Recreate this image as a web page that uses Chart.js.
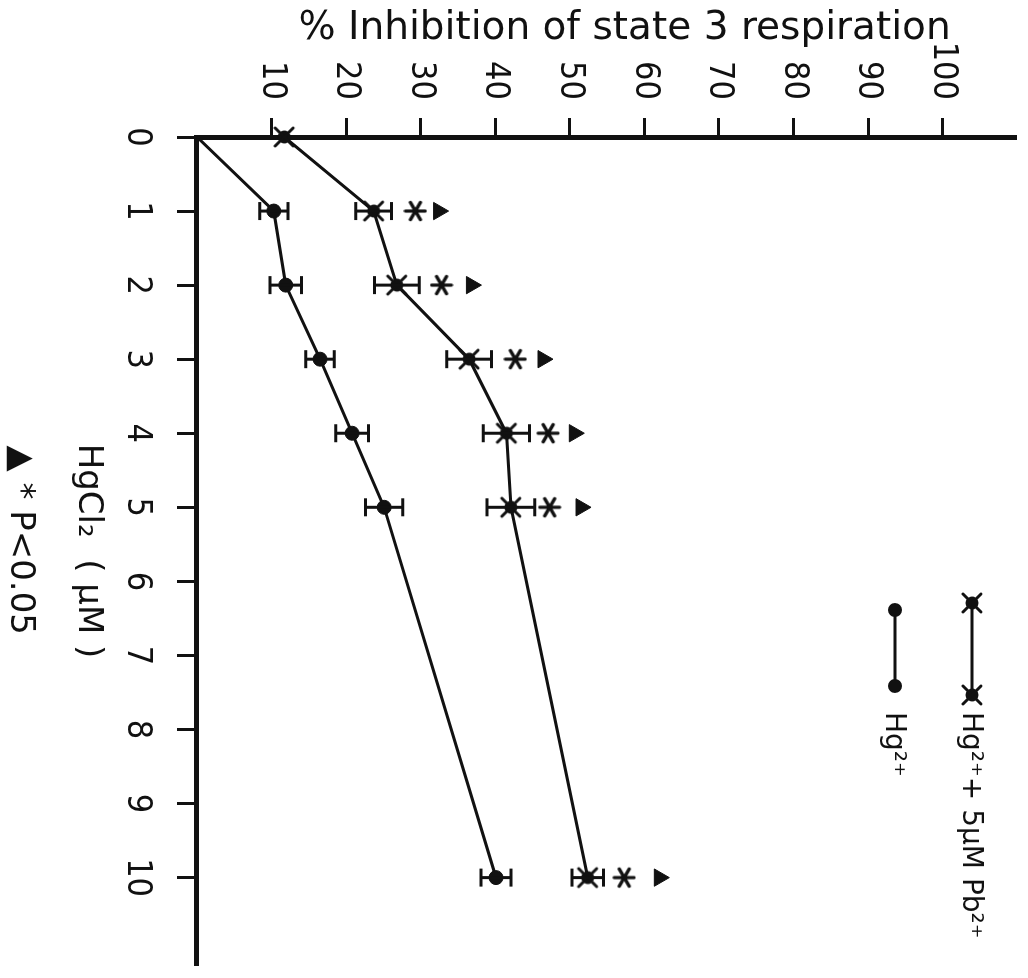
<!DOCTYPE html>
<html>
<head>
<meta charset="utf-8">
<script src="https://cdn.jsdelivr.net/npm/chart.js@4.4.0/dist/chart.umd.min.js"></script>
<style>
  html, body { margin: 0; padding: 0; background: #fff; overflow: hidden; }
  /* the figure is printed on its side, so the whole chart is turned 90deg clockwise */
  #wrap { position: absolute; left: 0; top: 0; width: 978px; height: 1028px;
          transform-origin: 0 0; transform: translate(1028px, 0) rotate(90deg); }
</style>
</head>
<body>
<div id="wrap"><canvas id="inhibitionChart" width="978" height="1028"></canvas></div>
<script>
const hgcl2 = [0, 1, 2, 3, 4, 5, 10];
const hgOnly = [0, 10.3, 11.9, 16.5, 20.8, 25.1, 40.1];
const hgOnlyErr = [0, 1.9, 2.1, 1.9, 2.2, 2.5, 2.0];
const hgPb = [11.7, 23.7, 26.8, 36.5, 41.5, 42.1, 52.4];
const hgPbErr = [0, 2.4, 3.0, 3.0, 3.1, 3.2, 2.1];
const sigDoses = [1, 2, 3, 4, 5, 10];
const starMarks = [29.3, 32.8, 42.7, 47.1, 47.3, 57.3];
const triangleMarks = [32.4, 36.8, 46.4, 50.6, 51.5, 62.0];
const xTicks = [0, 1, 2, 3, 4, 5, 6, 7, 8, 9, 10];
const yTicks = [10, 20, 30, 40, 50, 60, 70, 80, 90, 100];
const seriesNames = ['Hg\u00b2\u207a+ 5\u00b5M Pb\u00b2\u207a', 'Hg\u00b2\u207a'];
const xTitle = 'HgCl\u2082  ( \u00b5M )';
const footnote = '\u25b2 * P<0.05  ';
const yTitle = '   % Inhibition of state 3 respiration';

const ink = '#111';
const tickFont = "'Liberation Sans Narrow', 'DejaVu Sans Condensed', 'Liberation Sans', sans-serif";
const labelFont = "'DejaVu Sans', sans-serif";

function markCanvas(size, draw) {
  const c = document.createElement('canvas');
  c.width = size;
  c.height = size;
  const g = c.getContext('2d');
  g.strokeStyle = ink;
  g.fillStyle = ink;
  g.lineCap = 'round';
  draw(g, size / 2);
  return c;
}

// filled dot with a cross through it (Hg + Pb series)
const pbMark = markCanvas(26, (g, m) => {
  g.beginPath();
  g.arc(m, m, 6.5, 0, Math.PI * 2);
  g.fill();
  g.lineWidth = 3;
  g.beginPath();
  g.moveTo(4, 4); g.lineTo(22, 22);
  g.moveTo(22, 4); g.lineTo(4, 22);
  g.stroke();
});

// six-armed asterisk
const asterisk = markCanvas(24, (g, m) => {
  g.lineWidth = 3.2;
  g.beginPath();
  [90, 30, 150].forEach(a => {
    const r = a * Math.PI / 180;
    g.moveTo(m - 10 * Math.cos(r), m - 10 * Math.sin(r));
    g.lineTo(m + 10 * Math.cos(r), m + 10 * Math.sin(r));
  });
  g.stroke();
});

const errorBars = {
  id: 'errorBars',
  afterDatasetsDraw(chart) {
    const ctx = chart.ctx;
    const y = chart.scales.y;
    [[0, hgPb, hgPbErr], [1, hgOnly, hgOnlyErr]].forEach(([i, vals, errs]) => {
      chart.getDatasetMeta(i).data.forEach((pt, k) => {
        if (!errs[k]) return;
        const hi = y.getPixelForValue(vals[k] + errs[k]);
        const lo = y.getPixelForValue(vals[k] - errs[k]);
        ctx.save();
        ctx.strokeStyle = ink;
        ctx.lineWidth = 3;
        ctx.beginPath();
        ctx.moveTo(pt.x, hi); ctx.lineTo(pt.x, lo);
        ctx.moveTo(pt.x - 9, hi); ctx.lineTo(pt.x + 9, hi);
        ctx.moveTo(pt.x - 9, lo); ctx.lineTo(pt.x + 9, lo);
        ctx.stroke();
        ctx.restore();
      });
    });
  }
};

// legend drawn as in the original: a short line with a marker at each end
const sideLegend = {
  id: 'sideLegend',
  afterDraw(chart) {
    const ctx = chart.ctx;
    const a = chart.chartArea;
    const rows = [
      { top: a.top + 43, from: 603, to: 695, mark: 'pb' },
      { top: a.top + 120, from: 610, to: 686, mark: 'dot' }
    ];
    ctx.save();
    ctx.strokeStyle = ink;
    ctx.fillStyle = ink;
    ctx.lineWidth = 3;
    rows.forEach((r, i) => {
      ctx.beginPath();
      ctx.moveTo(r.from, r.top);
      ctx.lineTo(r.to, r.top);
      ctx.stroke();
      [r.from, r.to].forEach(x => {
        if (r.mark === 'pb') {
          ctx.drawImage(pbMark, x - 13, r.top - 13);
        } else {
          ctx.beginPath();
          ctx.arc(x, r.top, 7, 0, Math.PI * 2);
          ctx.fill();
        }
      });
      ctx.font = '28px ' + labelFont;
      ctx.textBaseline = 'middle';
      ctx.textAlign = 'left';
      ctx.fillText(seriesNames[i], 712, r.top + 2);
    });
    ctx.restore();
  }
};

new Chart(document.getElementById('inhibitionChart'), {
  type: 'line',
  data: {
    datasets: [
      {
        label: seriesNames[0],
        data: hgcl2.map((x, i) => ({ x, y: hgPb[i] })),
        borderColor: ink,
        borderWidth: 3,
        pointStyle: pbMark,
        pointRadius: 10,
        clip: false
      },
      {
        label: seriesNames[1],
        data: hgcl2.map((x, i) => ({ x, y: hgOnly[i] })),
        borderColor: ink,
        backgroundColor: ink,
        borderWidth: 3,
        pointStyle: 'circle',
        pointRadius: hgcl2.map(x => (x === 0 ? 0 : 7)),
        pointBorderWidth: 1,
        clip: false
      },
      {
        type: 'scatter',
        label: '*',
        data: sigDoses.map((x, i) => ({ x, y: starMarks[i] })),
        pointStyle: asterisk,
        pointRadius: 10,
        showLine: false
      },
      {
        type: 'scatter',
        label: '\u25b2',
        data: sigDoses.map((x, i) => ({ x, y: triangleMarks[i] })),
        pointStyle: 'triangle',
        pointRadius: 10,
        backgroundColor: ink,
        borderColor: ink,
        borderWidth: 1,
        showLine: false
      }
    ]
  },
  options: {
    responsive: false,
    animation: false,
    layout: { padding: { top: 8, right: 0, bottom: 0, left: 0 } },
    plugins: {
      legend: { display: false },
      tooltip: { enabled: false }
    },
    scales: {
      x: {
        type: 'linear',
        min: 0,
        max: 11.18,
        afterBuildTicks: s => { s.ticks = xTicks.map(v => ({ value: v })); },
        afterFit: s => { s.height = 197; s.paddingLeft = 0; s.paddingRight = 0; },
        grid: { drawOnChartArea: false, drawTicks: true, tickLength: 20, tickWidth: 3, tickColor: ink },
        border: { color: ink, width: 5 },
        ticks: { color: ink, padding: 20, maxRotation: 0, autoSkip: false, font: { family: tickFont, size: 34 } },
        title: {
          display: true,
          text: [xTitle, footnote],
          color: ink,
          font: { family: labelFont, size: 34, lineHeight: 2 },
          padding: { top: 0, bottom: -14 }
        }
      },
      y: {
        min: 0,
        max: 109.7,
        afterBuildTicks: s => { s.ticks = yTicks.map(v => ({ value: v })); },
        afterFit: s => { s.width = 137; s.paddingTop = 0; s.paddingBottom = 0; },
        grid: { drawOnChartArea: false, drawTicks: true, tickLength: 19, tickWidth: 3, tickColor: ink },
        border: { color: ink, width: 5 },
        ticks: { color: ink, padding: 18, font: { family: tickFont, size: 34 } },
        title: {
          display: true,
          text: yTitle,
          color: ink,
          font: { family: labelFont, size: 39 },
          padding: { top: 5, bottom: 0 }
        }
      }
    }
  },
  plugins: [errorBars, sideLegend]
});
</script>
</body>
</html>
